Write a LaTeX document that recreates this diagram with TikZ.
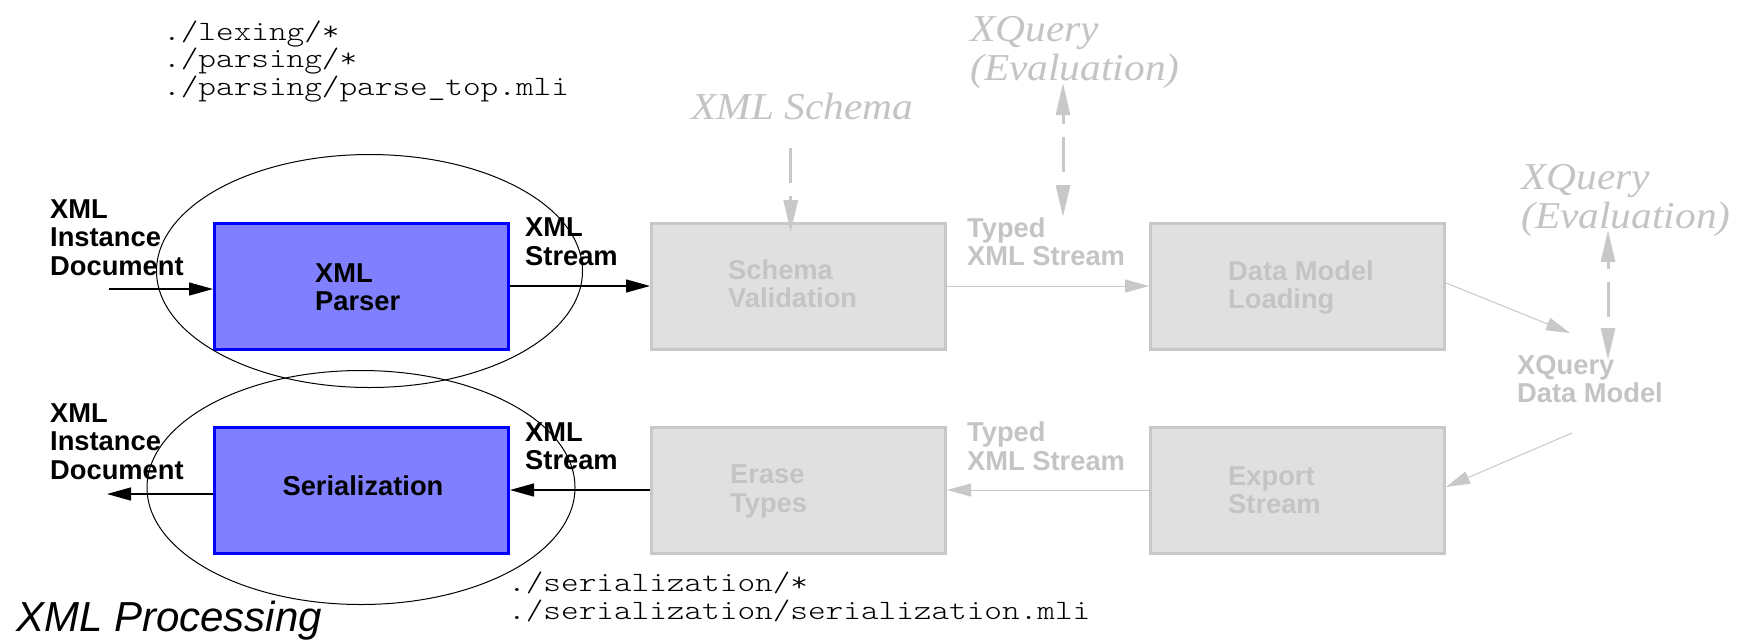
\documentclass[tikz,border=0pt]{standalone}
\usepackage{fontspec}
\setmainfont{Liberation Serif}
\newfontfamily\labfam{Liberation Sans}
\newfontfamily\codefam[FakeStretch=1.2]{lmmonolt10-regular.otf}
\newfontfamily\notefam[FakeStretch=1.09]{Liberation Serif}
\usetikzlibrary{arrows.meta}
\definecolor{procfill}{HTML}{8080FF}
\definecolor{procedge}{HTML}{0000FF}
\definecolor{stagefill}{HTML}{E0E0E0}
\definecolor{stageedge}{HTML}{C8C8C8}
\definecolor{faint}{HTML}{C4C4C4}
\tikzset{
  flowtip/.tip={Triangle[length=24pt, width=13pt]},
  hinttip/.tip={Triangle[length=32pt, width=14pt]},
  proc/.style={draw=procedge, fill=procfill, line width=3pt, minimum width=294pt, minimum height=126pt, inner sep=0pt},
  stage/.style={draw=stageedge, fill=stagefill, line width=3pt, minimum width=294pt, minimum height=126pt, inner sep=0pt},
  lab/.style={font=\labfam\bfseries\fontsize{27.3}{28.4}\selectfont, align=left, inner sep=0pt},
  darklab/.style={lab, text=black},
  palelab/.style={lab, text=faint},
  note/.style={font=\notefam\itshape\fontsize{38}{38.5}\selectfont, text=faint, align=left, inner sep=0pt},
  code/.style={font=\codefam\fontsize{28}{27.5}\selectfont, align=left, inner sep=0pt},
  flow/.style={line width=1.4pt, -flowtip},
  paleflow/.style={draw=stageedge, line width=1pt, -flowtip},
  hint/.style={draw=stageedge, line width=3pt, dash pattern=on 35pt off 13pt}
}
\begin{document}
\begin{tikzpicture}[x=1pt, y=-1pt]
\fill[white] (0,0) rectangle (1747,641);
\useasboundingbox (0,0) rectangle (1747,641);

% processing stages
\node[proc] (parser) at (361.5,286) {};
\node[darklab, anchor=west] (parsertxt) at (315,287) {XML\\Parser};
\node[stage] (schema) at (798.5,286) {};
\node[palelab, anchor=west] (schematxt) at (728,284) {Schema\\Validation};
\node[stage] (loading) at (1297.5,286) {};
\node[palelab, anchor=west] (loadingtxt) at (1228,287.5) {Data Model\\Loading};
\node[stage] (export) at (1297.5,490) {};
\node[palelab, anchor=west] (exporttxt) at (1228,490) {Export\\Stream};
\node[stage] (erase) at (798.5,490) {};
\node[palelab, anchor=west] (erasetxt) at (730,491.5) {Erase\\Types};
\node[proc] (serial) at (361.5,490) {};
\node[darklab, anchor=base] (serialtxt) at (363,495) {Serialization};

% module groupings
\draw[line width=1pt] (369.5,271) ellipse [x radius=213, y radius=116.5];
\draw[line width=1pt] (361,487.5) ellipse [x radius=214, y radius=117];

% data flow
\coordinate (docsrc) at (109,289);
\draw[flow] (docsrc) -- (docsrc -| parser.west);
\draw[flow] (parser.east) -- (schema.west);
\draw[paleflow] (schema.east) -- (loading.west);
\coordinate (dmin) at (1570,333);
\draw[paleflow] ([yshift=3pt]loading.east) -- (dmin);
\coordinate (dmout) at (1572,433);
\draw[paleflow] (dmout) -- ([yshift=3pt]export.east);
\draw[paleflow] (export.west) -- (erase.east);
\draw[flow] (erase.west) -- (serial.east);
\coordinate (docdst) at (107,494);
\draw[flow] (docdst -| serial.west) -- (docdst);

% external inputs
\coordinate (schtop) at (790.7,148);
\coordinate (schtip) at (790.7,232);
\draw[hint, -hinttip] (schtop) -- (schtip);
\coordinate (evaA1) at (1063,83);
\coordinate (evaA2) at (1063,217);
\draw[hint, dash phase=25pt, hinttip-hinttip] (evaA1) -- (evaA2);
\coordinate (evaB1) at (1608,230);
\coordinate (evaB2) at (1608,360);
\draw[hint, dash phase=27pt, hinttip-hinttip] (evaB1) -- (evaB2);

% labels
\node[darklab, anchor=north west] (docin) at (50,199.5) {XML\\Instance\\Document};
\node[darklab, anchor=north west] (docout) at (50,403.3) {XML\\Instance\\Document};
\node[darklab, anchor=north west] (strin) at (525,218) {XML\\Stream};
\node[darklab, anchor=north west] (strout) at (525,422.3) {XML\\Stream};
\node[palelab, anchor=north west] (typedin) at (967,217.3) {Typed\\XML Stream};
\node[palelab, anchor=north west] (typedout) at (967,421.7) {Typed\\XML Stream};
\node[palelab, anchor=north west] (xqdm) at (1517,355) {XQuery\\Data Model};

\node[note, anchor=base west] (schemasrc) at (691,119) {XML Schema};
\node[note, anchor=north west] (evalA) at (970,16.3) {XQuery\\(Evaluation)};
\node[note, anchor=north west] (evalB) at (1521,164.3) {XQuery\\(Evaluation)};

\node[code, anchor=north west] (srcparse) at (163,20.7) {./lexing/*\\./parsing/*\\./parsing/parse\_top.mli};
\node[code, anchor=north west] (srcser) at (508,572) {./serialization/*\\./serialization/serialization.mli};

\node[font=\labfam\itshape\fontsize{42}{44}\selectfont, anchor=base west, inner sep=0pt] (title) at (16,631) {XML Processing};
\end{tikzpicture}
\end{document}
